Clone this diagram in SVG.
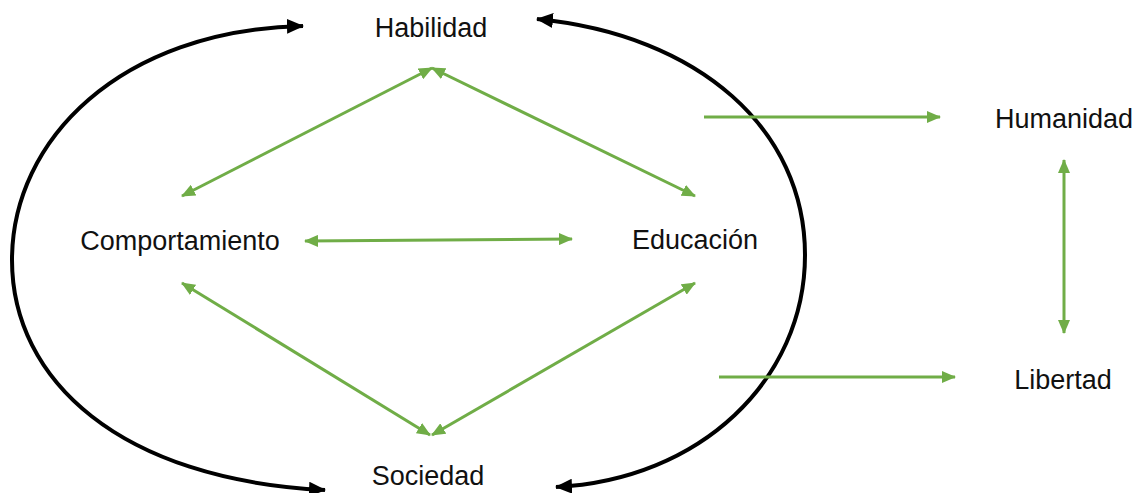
<svg xmlns="http://www.w3.org/2000/svg" width="1138" height="493" viewBox="0 0 1138 493">
<style>
.lbl{font-family:"Liberation Sans",Arial,sans-serif;font-size:27px;fill:#111;text-anchor:middle}
.g{stroke:#70AD47;stroke-width:3;fill:none;marker-start:url(#ga);marker-end:url(#ga)}
.g1{stroke:#70AD47;stroke-width:3;fill:none;marker-end:url(#ga)}
.k{stroke:#000;stroke-width:4;fill:none;marker-start:url(#ka);marker-end:url(#ka)}
</style>
<defs>
<marker id="ga" markerUnits="userSpaceOnUse" markerWidth="14" markerHeight="12" refX="13" refY="6" orient="auto-start-reverse" viewBox="0 0 14 12">
<path d="M0,0 L14,6 L0,12 z" fill="#70AD47"/>
</marker>
<marker id="ka" markerUnits="userSpaceOnUse" markerWidth="17" markerHeight="15" refX="16" refY="7.5" orient="auto-start-reverse" viewBox="0 0 17 15">
<path d="M0,0 L17,7.5 L0,15 z" fill="#000"/>
</marker>
</defs>
<rect width="1138" height="493" fill="#fff"/>
<g id="connectors">
<path class="k" d="M303,26 C120,30 12,140 12,260 C12,380 120,480 325,490"/>
<path class="k" d="M537,19 C700,35 805,130 805,255 C805,380 700,480 556,487"/>
<line class="g" x1="432" y1="68" x2="182" y2="196"/>
<line class="g" x1="432" y1="68" x2="695" y2="196"/>
<line class="g" x1="305" y1="241" x2="572" y2="239"/>
<line class="g" x1="182" y1="283" x2="430" y2="435"/>
<line class="g" x1="695" y1="283" x2="432" y2="435"/>
<line class="g1" x1="704" y1="117" x2="940" y2="117"/>
<line class="g1" x1="719" y1="377" x2="955" y2="377"/>
<line class="g" x1="1064" y1="160" x2="1064" y2="333"/>
</g>
<g id="habilidad"><text class="lbl" x="431" y="37">Habilidad</text></g>
<g id="comportamiento"><text class="lbl" x="180" y="250">Comportamiento</text></g>
<g id="educacion"><text class="lbl" x="695" y="249">Educación</text></g>
<g id="humanidad"><text class="lbl" x="1064" y="128">Humanidad</text></g>
<g id="libertad"><text class="lbl" x="1063" y="389">Libertad</text></g>
<g id="sociedad"><text class="lbl" x="428" y="485">Sociedad</text></g>
</svg>
